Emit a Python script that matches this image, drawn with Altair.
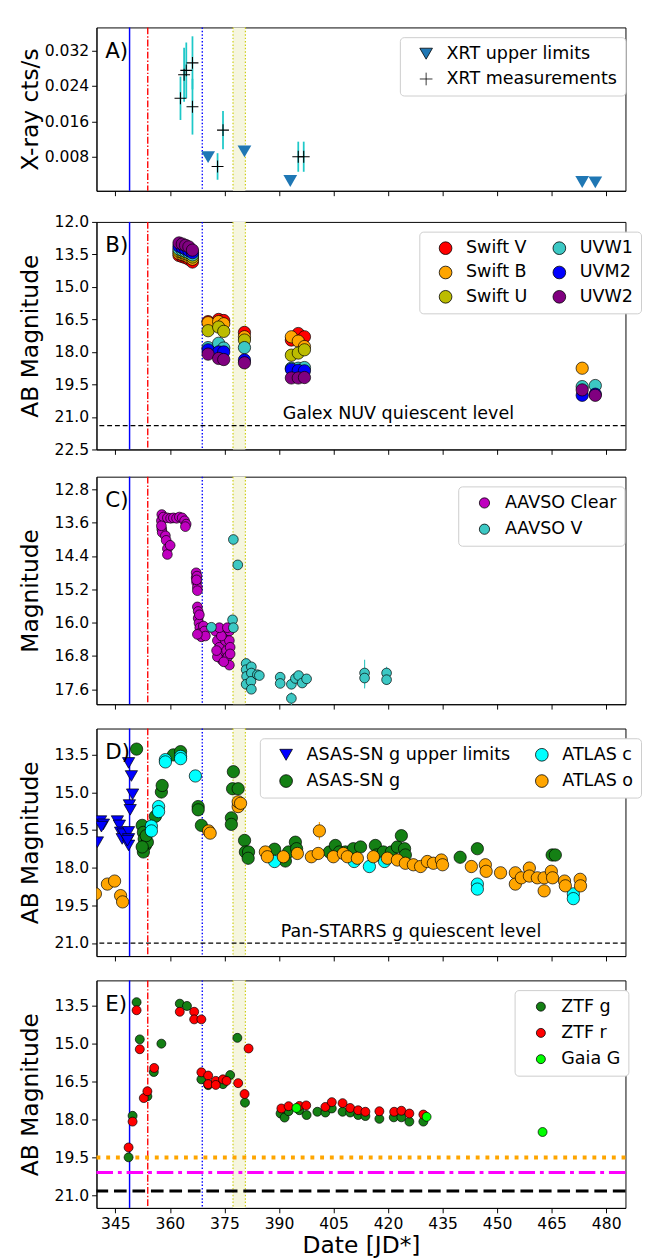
import altair as alt
import pandas as pd

FONT = "DejaVu Sans"
W = 544

# ---------------- shared x axis and event markers ----------------
x_domain = [339.8, 485.3]
x_ticks = [345, 360, 375, 390, 405, 420, 435, 450, 465, 480]
event_solid = [348.9]
event_dashdot = [353.9]
event_dotted = [368.9]
band_start = [377.35]
band_end = [380.75]

# ---------------- Panel A: XRT ----------------
xrt_t = [362.9, 363.9, 364.5, 366.2, 366.2, 373.1, 374.6, 395.3, 396.8]
xrt_rate = [0.0212, 0.0265, 0.0275, 0.0292, 0.0193, 0.0058, 0.0140, 0.0080, 0.0080]
xrt_err = [0.0049, 0.0061, 0.0063, 0.0060, 0.0063, 0.0030, 0.0043, 0.0034, 0.0034]
xrt_ul_t = [370.5, 380.5, 393.1, 473.4, 477.0]
xrt_ul_rate = [0.0079, 0.0092, 0.0025, 0.0023, 0.0022]

# ---------------- Panel B: Swift UVOT ----------------
swift_t = [362.5, 363.4, 364.3, 365.2, 366.2, 370.5, 373.4, 374.8, 380.5, 393.4, 395.3, 397.0]
swift_t_late = [473.4, 477.0]
swift_V = [13.55, 13.60, 13.65, 13.72, 13.85, 16.60, 16.50, 16.55, 17.10, 17.45, 17.15, 17.30]
swift_B = [13.45, 13.50, 13.55, 13.62, 13.72, 16.65, 16.60, 16.70, 17.30, 17.30, 17.50, 17.75]
swift_B_late = [18.75]
swift_U = [13.35, 13.40, 13.46, 13.52, 13.62, 17.02, 16.85, 17.05, 17.45, 18.15, 18.05, 17.90]
uvw1 = [13.25, 13.30, 13.36, 13.42, 13.52, 17.80, 17.60, 17.82, 17.80, 18.75, 18.75, 18.72]
uvw1_late = [19.60, 19.55]
uvm2 = [13.12, 13.18, 13.25, 13.32, 13.42, 17.90, 18.00, 18.00, 18.37, 18.80, 18.85, 18.87]
uvm2_late = [20.00, 19.95]
uvw2 = [12.97, 13.02, 13.08, 13.15, 13.30, 18.10, 18.30, 18.35, 18.50, 19.20, 19.20, 19.18]
uvw2_late = [19.75, 20.00]
galex_level = [21.4]

# ---------------- Panel C: AAVSO ----------------
clear_t = [357.76, 357.65, 357.76, 357.87, 358.75, 358.97, 359.30, 359.30, 360.07, 358.20,
           359.30, 360.18, 360.95, 361.83, 362.60, 363.37, 364.03, 364.47, 364.25, 357.65,
           367.22, 367.22, 367.33, 367.55, 367.55, 367.44, 367.33,
           367.55, 367.77, 367.77, 367.99, 368.21, 368.43, 368.65, 369.20, 369.53, 368.10, 369.75, 367.55,
           372.50, 373.05, 373.60, 373.93, 374.37, 374.81, 375.25, 375.58, 375.91, 376.35,
           376.35, 376.57, 376.35, 373.05, 374.15, 373.60, 372.83, 375.80, 376.57, 374.81]
clear_m = [13.40, 13.55, 13.75, 13.83, 13.91, 14.02, 14.22, 14.36, 14.14, 13.46,
           13.48, 13.49, 13.48, 13.49, 13.46, 13.48, 13.55, 13.63, 13.69, 13.67,
           14.80, 14.92, 15.03, 15.15, 15.23, 14.88, 14.97,
           15.62, 15.73, 15.89, 16.01, 16.12, 16.24, 16.34, 16.08, 16.20, 15.81, 16.32, 16.28,
           16.20, 16.43, 16.59, 16.75, 16.90, 16.24, 16.43, 16.67, 16.82, 16.20,
           16.43, 16.59, 17.02, 16.82, 16.32, 16.12, 16.67, 16.12, 16.75, 16.94]
aavso_v_t = [371.40, 377.45, 378.66, 377.23, 377.45, 380.97, 380.97, 381.08, 380.97, 382.40,
             382.40, 382.29, 382.40, 384.05, 384.60, 390.33, 390.33, 393.41, 393.41, 394.51,
             395.39, 396.38, 397.59, 413.54, 413.54, 419.59, 419.59]
aavso_v_m = [16.11, 14.00, 14.61, 15.93, 16.12, 16.98, 17.13, 17.29, 17.48, 17.06,
             17.21, 17.41, 17.60, 17.25, 17.27, 17.31, 17.46, 17.48, 17.82, 17.34,
             17.27, 17.45, 17.35, 17.21, 17.33, 17.21, 17.37]
aavso_v_err = [0.05, 0.03, 0.03, 0.05, 0.05, 0.05, 0.05, 0.05, 0.05, 0.05,
               0.05, 0.05, 0.05, 0.05, 0.05, 0.10, 0.10, 0.05, 0.15, 0.05,
               0.05, 0.05, 0.05, 0.32, 0.25, 0.15, 0.12]

# ---------------- Panel D: ASAS-SN / ATLAS ----------------
asassn_ul_t = [340.05, 340.93, 341.70, 341.15, 345.55, 346.10, 346.43, 346.87, 347.20,
               348.63, 349.40, 349.73, 348.85, 349.07, 348.63, 348.63, 348.63, 348.30]
asassn_ul_m = [16.98, 16.14, 16.27, 16.36, 16.14, 16.31, 16.59, 16.85, 16.66,
               13.82, 14.34, 15.07, 15.50, 15.69, 16.57, 16.85, 17.11, 16.92]
asassn_g_t = [350.83, 352.37, 352.70, 352.92, 353.25, 352.70, 353.80, 353.47, 352.37, 356.00,
              357.65, 357.87, 360.95, 362.93, 367.77, 367.77, 368.65, 376.90, 376.90, 377.45,
              377.23, 378.77, 380.53, 380.75, 381.63, 381.52, 388.78, 391.76, 392.64, 394.51,
              394.84, 403.86, 405.51, 406.61, 408.26, 410.46, 412.44, 416.51, 416.84, 418.71,
              420.91, 422.56, 423.66, 424.54, 424.76, 439.83, 444.56, 465.13, 466.01]
asassn_g_m = [13.27, 16.31, 16.59, 16.85, 17.11, 17.37, 16.98, 16.72, 17.17, 15.95,
              14.98, 14.72, 13.50, 13.37, 15.56, 15.69, 16.31, 16.01, 16.27, 14.17,
              14.85, 14.85, 16.91, 17.37, 17.37, 17.62, 17.26, 17.73, 17.37, 16.98,
              17.24, 17.37, 17.11, 17.37, 17.37, 17.24, 17.17, 17.11, 17.49, 17.37,
              17.37, 17.17, 16.72, 17.24, 17.49, 17.58, 17.24, 17.49, 17.49]
atlas_c_t = [354.90, 354.90, 356.88, 356.88, 358.75, 358.75, 362.93, 362.93, 367.00, 388.78,
             410.68, 414.86, 419.04, 444.56, 444.56, 470.96, 470.96]
atlas_c_m = [16.34, 16.53, 15.56, 15.76, 13.69, 13.78, 13.56, 13.65, 14.34, 17.75,
             17.75, 17.95, 17.75, 18.65, 18.85, 19.04, 19.23]
atlas_o_t = [339.50, 342.80, 344.78, 346.43, 346.98, 370.63, 371.07, 378.77, 378.77, 379.43,
             386.25, 386.80, 391.21, 395.06, 398.91, 400.78, 401.11, 404.96, 407.71, 408.81,
             411.56, 415.96, 419.81, 422.56, 424.76, 426.96, 428.94, 430.81, 432.46, 434.66,
             434.99, 442.91, 446.76, 446.98, 450.94, 455.01, 455.01, 456.66, 458.86, 458.86,
             461.06, 462.93, 462.93, 464.91, 465.24, 468.54, 468.76, 472.83, 472.94]
atlas_o_m = [19.04, 18.65, 18.53, 19.11, 19.36, 16.53, 16.62, 15.56, 15.37, 15.43,
             17.37, 17.56, 17.56, 17.43, 17.56, 17.43, 16.53, 17.56, 17.43, 17.56,
             17.62, 17.56, 17.62, 17.69, 17.82, 17.88, 17.95, 17.75, 17.82, 17.69,
             17.88, 17.95, 17.88, 18.14, 18.20, 18.20, 18.65, 18.40, 18.01, 18.33,
             18.40, 18.40, 18.92, 18.14, 18.40, 18.53, 18.72, 18.46, 18.72]
atlas_o_err_t = [401.11, 346.98]
atlas_o_err_lo = [16.18, 19.25]
atlas_o_err_hi = [16.88, 19.55]
panstarrs_level = [21.0]

# ---------------- Panel E: ZTF / Gaia ----------------
ztf_g_t = [348.63, 349.73, 350.83, 351.71, 353.80, 355.56, 357.65, 362.71, 364.69, 368.65,
           370.52, 372.61, 374.59, 376.57, 378.55, 380.64, 390.43, 391.54, 392.64, 395.61,
           397.59, 400.56, 402.76, 404.52, 407.49, 409.58, 411.78, 413.76, 417.61, 421.57,
           423.66, 425.86, 429.71]
ztf_g_m = [19.49, 17.85, 13.36, 14.83, 17.08, 16.12, 15.00, 13.42, 13.51, 16.41,
           16.64, 16.54, 16.60, 16.24, 14.77, 17.33, 17.76, 17.92, 17.67, 17.63,
           17.82, 17.69, 17.72, 17.56, 17.69, 17.72, 17.82, 17.86, 17.97, 17.91,
           17.91, 18.08, 18.08]
ztf_r_t = [348.63, 349.73, 350.83, 351.71, 352.81, 353.80, 355.67, 362.71, 366.67, 366.67,
           368.65, 368.65, 370.52, 370.52, 372.61, 372.61, 374.59, 375.58, 378.77, 380.53,
           381.63, 390.65, 392.64, 395.61, 397.48, 402.76, 404.52, 407.49, 409.58, 411.78,
           413.76, 417.61, 421.68, 423.66, 425.86, 429.71]
ztf_r_m = [19.10, 18.08, 13.68, 15.22, 17.15, 16.88, 15.96, 13.74, 13.74, 14.04,
           14.04, 16.13, 16.26, 16.60, 16.47, 16.63, 16.41, 16.47, 16.56, 16.99,
           15.19, 17.56, 17.47, 17.46, 17.44, 17.50, 17.31, 17.35, 17.54, 17.63,
           17.69, 17.67, 17.69, 17.65, 17.76, 17.80]
gaia_t = [394.8, 430.6, 462.5]
gaia_m = [17.54, 17.89, 18.49]
level_orange = [19.5]
level_magenta = [20.09]
level_black = [20.82]

# ---------------- helpers ----------------
CROSS = "M-1,0H1M0,-1V1"
AX = dict(labelFont=FONT, titleFont=FONT, labelFontSize=16, titleFontSize=24, titleFontWeight="normal",
          labelColor="black", titleColor="black", tickColor="black", domainColor="black",
          tickSize=5, grid=False, labelPadding=3)


def X(labels=False, title=None):
    if labels:
        ax = alt.Axis(values=x_ticks, labels=True, title=title, format="d", titlePadding=3, **AX)
    else:
        ax = alt.Axis(values=x_ticks, labels=False, title=None, maxExtent=5, minExtent=0, **AX)
    return alt.X("t:Q", scale=alt.Scale(domain=x_domain, nice=False, zero=False), axis=ax)


def Y(domain, ticks, fmt, title, reverse=True, field="m"):
    return alt.Y(field + ":Q",
                 scale=alt.Scale(domain=domain, reverse=reverse, nice=False, zero=False),
                 axis=alt.Axis(values=ticks, format=fmt, title=title, minExtent=54, maxExtent=54,
                               titlePadding=2, **AX))


def guides(xe):
    band = alt.Chart(pd.DataFrame({"t": band_start, "t2": band_end})).mark_rect(
        color="#f6f6df", opacity=1).encode(x=xe, x2="t2:Q")
    edges = alt.Chart(pd.DataFrame({"t": band_start + band_end})).mark_rule(
        color="#c9c900", strokeWidth=1.1, strokeDash=[1.5, 2]).encode(x=xe)
    solid = alt.Chart(pd.DataFrame({"t": event_solid})).mark_rule(
        color="#0000ff", strokeWidth=1.5).encode(x=xe)
    dashdot = alt.Chart(pd.DataFrame({"t": event_dashdot})).mark_rule(
        color="#ff0000", strokeWidth=1.4, strokeDash=[7, 2, 1.5, 2]).encode(x=xe)
    dotted = alt.Chart(pd.DataFrame({"t": event_dotted})).mark_rule(
        color="#0000ff", strokeWidth=1.4, strokeDash=[1.5, 2]).encode(x=xe)
    return [band, edges, solid, dashdot, dotted]


def letter(s):
    return alt.Chart(pd.DataFrame({"label": [s]})).mark_text(
        align="left", baseline="middle", fontSize=22, font=FONT, color="black").encode(
        x=alt.value(9), y=alt.value(24), text="label:N")


def hline(vals, ye, **kw):
    return alt.Chart(pd.DataFrame({"m": vals})).mark_rule(**kw).encode(y=ye)


LEG = dict(labelFont=FONT, labelFontSize=18, labelColor="black", strokeColor="#cccccc", fillColor="white",
           cornerRadius=4, padding=8, rowPadding=7, labelOffset=12, symbolStrokeColor="black",
           symbolStrokeWidth=0.8, symbolOffset=10, labelLimit=0)


def legend(x, y, columns=1, **kw):
    opts = dict(LEG)
    opts.update(kw)
    return alt.Legend(title=None, orient="none", legendX=x, legendY=y, columns=columns, **opts)


# ---------------- Panel A ----------------
xa = X()
a_dom = [0.0003, 0.0372]
a_ticks = [0.008, 0.016, 0.024, 0.032]
ya = Y(a_dom, a_ticks, ".3f", "X-ray cts/s", reverse=False)
A_dom = ["XRT upper limits", "XRT measurements"]
legA = legend(312, 10, symbolSize=170, rowPadding=8)
colA = alt.Color("series:N", scale=alt.Scale(domain=A_dom, range=["#1f77b4", "black"]), legend=legA)
shpA = alt.Shape("series:N", scale=alt.Scale(domain=A_dom, range=["triangle-down", CROSS]), legend=legA)
dfA = pd.DataFrame({"t": xrt_t, "m": xrt_rate,
                    "lo": [r - e for r, e in zip(xrt_rate, xrt_err)],
                    "hi": [r + e for r, e in zip(xrt_rate, xrt_err)],
                    "series": "XRT measurements"})
dfAu = pd.DataFrame({"t": xrt_ul_t, "m": xrt_ul_rate, "series": "XRT upper limits"})
errA = alt.Chart(dfA).mark_rule(color="#1ec8c8", strokeWidth=1.8).encode(
    x=xa, y=Y(a_dom, a_ticks, ".3f", "X-ray cts/s", reverse=False, field="lo"), y2="hi:Q")
crossA = alt.Chart(dfA).mark_point(filled=True, stroke="black", strokeWidth=1.1, size=150, opacity=1).encode(
    x=xa, y=ya, color=colA, shape=shpA)
triA = alt.Chart(dfAu).mark_point(filled=True, size=200, opacity=1, strokeWidth=0).encode(
    x=xa, y=ya, color=colA, shape=shpA)
panelA = alt.layer(*guides(xa), errA, crossA, triA, letter("A)")).properties(width=W, height=168)

# ---------------- Panel B ----------------
xb = X()
yb = Y([12.0, 22.5], [12.0, 13.5, 15.0, 16.5, 18.0, 19.5, 21.0, 22.5], ".1f", "AB Magnitude")
rows = []
for name, tt, mm in [("Swift V", swift_t, swift_V),
                     ("Swift B", swift_t + swift_t_late[:1], swift_B + swift_B_late),
                     ("Swift U", swift_t, swift_U),
                     ("UVW1", swift_t + swift_t_late, uvw1 + uvw1_late),
                     ("UVM2", swift_t + swift_t_late, uvm2 + uvm2_late),
                     ("UVW2", swift_t + swift_t_late, uvw2 + uvw2_late)]:
    for a, b in zip(tt, mm):
        rows.append({"t": a, "m": b, "series": name})
dfB = pd.DataFrame(rows)
B_dom = ["Swift V", "Swift B", "Swift U", "UVW1", "UVM2", "UVW2"]
B_rng = ["#ff0000", "#ffa500", "#bcbc00", "#3cc8c4", "#0000ff", "#800080"]
ptsB = alt.Chart(dfB).mark_point(filled=True, stroke="black", strokeWidth=0.7, size=160, opacity=1,
                                 shape="circle").encode(
    x=xb, y=yb,
    color=alt.Color("series:N", scale=alt.Scale(domain=B_dom, range=B_rng),
                    legend=legend(332, 10, columns=2, symbolSize=170, columnPadding=13)))
galex = hline(galex_level, yb, color="black", strokeWidth=1.3, strokeDash=[5, 3])
galex_txt = alt.Chart(pd.DataFrame({"t": [391.0], "m": [20.85], "label": ["Galex NUV quiescent level"]})).mark_text(
    align="left", baseline="middle", fontSize=18, font=FONT, color="black").encode(x=xb, y=yb, text="label:N")
panelB = alt.layer(*guides(xb), galex, galex_txt, ptsB, letter("B)")).properties(width=W, height=234)

# ---------------- Panel C ----------------
xc = X()
c_dom = [12.49, 17.96]
c_ticks = [12.8, 13.6, 14.4, 15.2, 16.0, 16.8, 17.6]
yc = Y(c_dom, c_ticks, ".1f", "Magnitude")
dfC = pd.concat([
    pd.DataFrame({"t": clear_t, "m": clear_m, "series": "AAVSO Clear"}),
    pd.DataFrame({"t": aavso_v_t, "m": aavso_v_m, "series": "AAVSO V"}),
])
dfCe = pd.DataFrame({"t": aavso_v_t,
                     "lo": [m - e for m, e in zip(aavso_v_m, aavso_v_err)],
                     "hi": [m + e for m, e in zip(aavso_v_m, aavso_v_err)]})
errC = alt.Chart(dfCe).mark_rule(color="#3cc8c4", strokeWidth=1.2).encode(
    x=xc, y=Y(c_dom, c_ticks, ".1f", "Magnitude", field="lo"), y2="hi:Q")
ptsC = alt.Chart(dfC).mark_point(filled=True, stroke="black", strokeWidth=0.7, size=100, opacity=1,
                                 shape="circle").encode(
    x=xc, y=yc,
    color=alt.Color("series:N", scale=alt.Scale(domain=["AAVSO Clear", "AAVSO V"], range=["#bf00bf", "#3cc8c4"]),
                    legend=legend(372, 10, symbolSize=110, rowPadding=9)))
panelC = alt.layer(*guides(xc), errC, ptsC, letter("C)")).properties(width=W, height=234)

# ---------------- Panel D ----------------
xd = X()
d_dom = [12.45, 21.52]
d_ticks = [13.5, 15.0, 16.5, 18.0, 19.5, 21.0]
yd = Y(d_dom, d_ticks, ".1f", "AB Magnitude")
D_dom = ["ASAS-SN g upper limits", "ASAS-SN g", "ATLAS c", "ATLAS o"]
legD = legend(168, 10, columns=2, symbolSize=170, columnPadding=13, rowPadding=9)
colD = alt.Color("series:N", scale=alt.Scale(domain=D_dom, range=["#0000ff", "#148014", "#00ffff", "#ffa500"]),
                 legend=legD)
shpD = alt.Shape("series:N", scale=alt.Scale(domain=D_dom, range=["triangle-down", "circle", "circle", "circle"]),
                 legend=legD)
dfD = pd.concat([
    pd.DataFrame({"t": asassn_ul_t, "m": asassn_ul_m, "series": "ASAS-SN g upper limits"}),
    pd.DataFrame({"t": asassn_g_t, "m": asassn_g_m, "series": "ASAS-SN g"}),
    pd.DataFrame({"t": atlas_c_t, "m": atlas_c_m, "series": "ATLAS c"}),
    pd.DataFrame({"t": atlas_o_t, "m": atlas_o_m, "series": "ATLAS o"}),
])
errD = alt.Chart(pd.DataFrame({"t": atlas_o_err_t, "lo": atlas_o_err_lo, "hi": atlas_o_err_hi})).mark_rule(
    color="#ffa500", strokeWidth=1.2).encode(x=xd, y=Y(d_dom, d_ticks, ".1f", "AB Magnitude", field="lo"), y2="hi:Q")
ptsD = alt.Chart(dfD).mark_point(filled=True, stroke="black", strokeWidth=0.7, size=160, opacity=1, clip=True).encode(
    x=xd, y=yd, color=colD, shape=shpD)
pan = hline(panstarrs_level, yd, color="black", strokeWidth=1.3, strokeDash=[5, 3])
pan_txt = alt.Chart(pd.DataFrame({"t": [390.5], "m": [20.55], "label": ["Pan-STARRS g quiescent level"]})).mark_text(
    align="left", baseline="middle", fontSize=18, font=FONT, color="black").encode(x=xd, y=yd, text="label:N")
panelD = alt.layer(*guides(xd), pan, pan_txt, errD, ptsD, letter("D)")).properties(width=W, height=234)

# ---------------- Panel E ----------------
xe = X(labels=True, title="Date [JD*]")
ye = Y([12.5, 21.49], [13.5, 15.0, 16.5, 18.0, 19.5, 21.0], ".1f", "AB Magnitude")
E_dom = ["ZTF g", "ZTF r", "Gaia G"]
legE = legend(430, 10, rowPadding=9)
colE = alt.Color("series:N", scale=alt.Scale(domain=E_dom, range=["#148014", "#ff0000", "#00ff00"]), legend=legE)
sizE = alt.Size("series:N", scale=alt.Scale(domain=E_dom, range=[85, 85, 165]), legend=legE)
dfE = pd.concat([
    pd.DataFrame({"t": ztf_g_t, "m": ztf_g_m, "series": "ZTF g"}),
    pd.DataFrame({"t": ztf_r_t, "m": ztf_r_m, "series": "ZTF r"}),
    pd.DataFrame({"t": gaia_t, "m": gaia_m, "series": "Gaia G"}),
])
ptsE = alt.Chart(dfE).mark_point(filled=True, stroke="black", strokeWidth=0.7, opacity=1, shape="circle").encode(
    x=xe, y=ye, color=colE, size=sizE)
lo = hline(level_orange, ye, color="#ffa500", strokeWidth=4, strokeDash=[4, 6])
lm = hline(level_magenta, ye, color="#ff00ff", strokeWidth=3, strokeDash=[17, 5, 4, 5])
lb = hline(level_black, ye, color="black", strokeWidth=3, strokeDash=[13, 6])
panelE = alt.layer(*guides(xe), lo, lm, lb, ptsE, letter("E)")).properties(width=W, height=234)

chart = alt.vconcat(panelA, panelB, panelC, panelD, panelE, spacing=17).resolve_scale(
    color="independent", shape="independent", size="independent"
).resolve_legend(color="independent", shape="independent", size="independent").properties(
    padding={"left": 10, "top": 0, "right": 0, "bottom": 0}
).configure(font=FONT).configure_view(stroke="black", strokeWidth=1)

chart.save("out.html", embed_options={"renderer": "svg", "actions": False})
